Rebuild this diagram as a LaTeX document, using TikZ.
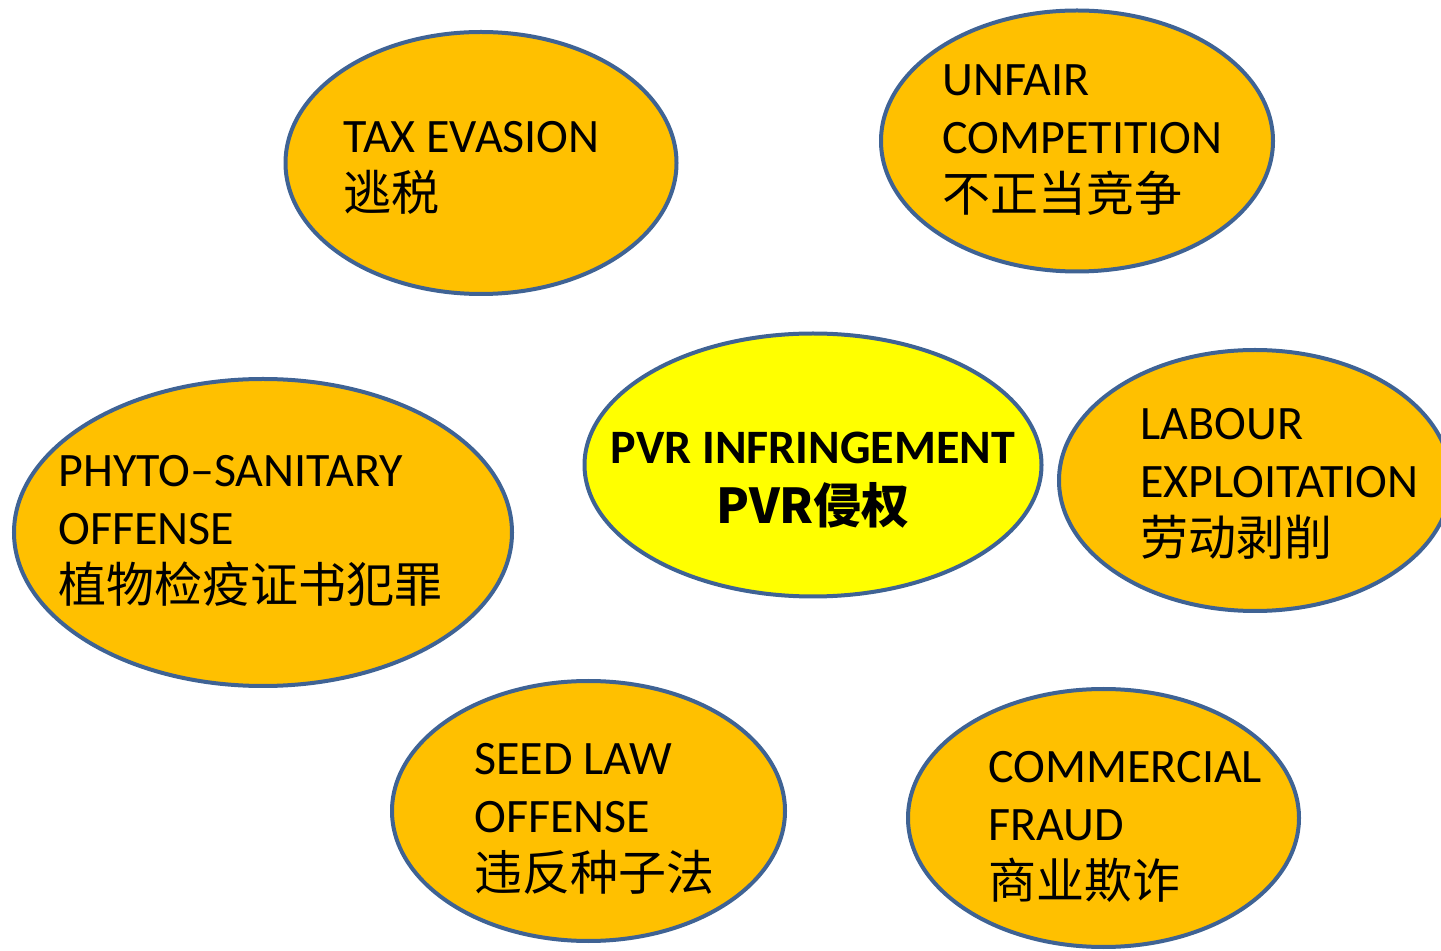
\documentclass[tikz,border=0pt]{standalone}
\usepackage{fontspec}
\setmainfont{Carlito}
\newfontfamily\cjk{Noto Sans CJK SC}
\usetikzlibrary{shapes.geometric}
\definecolor{blobfill}{HTML}{FFC000}
\definecolor{blobline}{HTML}{3F6394}
\definecolor{hubfill}{HTML}{FFFF00}

\begin{document}
\begin{tikzpicture}[x=0.5pt, y=-0.5pt,
    blob/.style={ellipse, draw=blobline, line width=2pt, fill=blobfill, inner sep=0pt},
    txt/.style={anchor=west, align=left, inner sep=0pt, font=\fontsize{24}{29}\selectfont}]
    \useasboundingbox (0,0) rectangle (1441,951);
    \clip (0,0) rectangle (1441,951);
    % the ellipses
    \node[blob, minimum width=195.5pt, minimum height=131pt]   (tax)    at (481,163)    {};
    \node[blob, minimum width=196pt,   minimum height=130.5pt] (unfair) at (1077,141)   {};
    \node[blob, fill=hubfill, minimum width=228.5pt, minimum height=131.5pt] (pvr) at (813,465) {};
    \node[blob, minimum width=196pt,   minimum height=130.5pt] (labour) at (1255,480.5) {};
    \node[blob, minimum width=249pt,   minimum height=153.5pt] (phyto)  at (263,532.5)  {};
    \node[blob, minimum width=196.5pt, minimum height=130pt]   (seed)   at (588.5,811)  {};
    \node[blob, minimum width=195.5pt, minimum height=129pt]   (fraud)  at (1103.5,818) {};
    % the texts
    \node[txt] (taxtext)    at (343,168)  {TAX EVASION\\{\cjk 逃税}};
    \node[txt] (unfairtext) at (942,140)  {UNFAIR\\COMPETITION\\{\cjk 不正当竞争}};
    \node[txt, anchor=center, align=center, font=\fontsize{24}{30}\selectfont\bfseries] (pvrtext) at (813,480)
        {PVR INFRINGEMENT\\{\cjk\bfseries PVR侵权}};
    \node[txt] (labourtext) at (1140,484) {LABOUR\\EXPLOITATION\\{\cjk 劳动剥削}};
    \node[txt] (phytotext)  at (58,531)   {PHYTO--SANITARY\\OFFENSE\\{\cjk 植物检疫证书犯罪}};
    \node[txt] (seedtext)   at (474,819)  {SEED LAW\\OFFENSE\\{\cjk 违反种子法}};
    \node[txt] (fraudtext)  at (988,827)  {COMMERCIAL\\FRAUD\\{\cjk 商业欺诈}};
\end{tikzpicture}
\end{document}
